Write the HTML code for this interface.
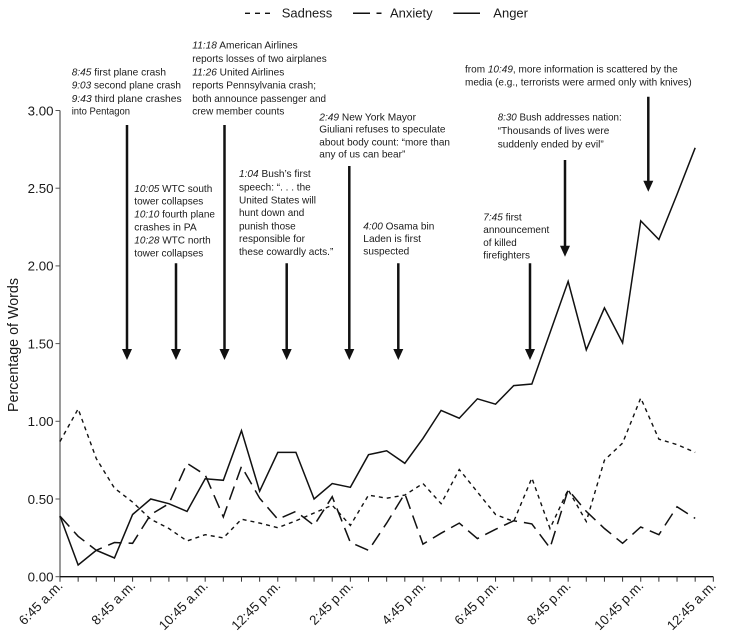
<!DOCTYPE html>
<html>
<head>
<meta charset="utf-8">
<style>
  html, body { margin: 0; padding: 0; background: #ffffff; }
  svg { display: block; }
  text { font-family: "Liberation Sans", Arial, sans-serif; fill: #1a1a1a; }
  .ann { font-size: 10.3px; }
  .tick { font-size: 13.3px; fill: #222; }
</style>
</head>
<body>
<svg width="729" height="635" viewBox="0 0 729 635" xmlns="http://www.w3.org/2000/svg">
  <!-- Legend -->
  <line x1="245" y1="13.3" x2="270" y2="13.3" stroke="#111" stroke-width="1.4" stroke-dasharray="5,5"/>
  <text x="281.7" y="17.5" style="font-size:13px">Sadness</text>
  <line x1="353" y1="13.3" x2="382" y2="13.3" stroke="#111" stroke-width="1.5" stroke-dasharray="17,6.5,5,10"/>
  <text x="390" y="17.5" style="font-size:13px">Anxiety</text>
  <line x1="453.3" y1="13.3" x2="480" y2="13.3" stroke="#111" stroke-width="1.5"/>
  <text x="493.3" y="17.5" style="font-size:13px">Anger</text>

  <!-- Y axis -->
  <line x1="60" y1="110.5" x2="60" y2="577" stroke="#9a9a9a" stroke-width="2"/>
  <g stroke="#555" stroke-width="1">
    <line x1="55.5" y1="110.5" x2="60" y2="110.5"/>
    <line x1="55.5" y1="188.2" x2="60" y2="188.2"/>
    <line x1="55.5" y1="265.9" x2="60" y2="265.9"/>
    <line x1="55.5" y1="343.6" x2="60" y2="343.6"/>
    <line x1="55.5" y1="421.3" x2="60" y2="421.3"/>
    <line x1="55.5" y1="499.0" x2="60" y2="499.0"/>
    <line x1="55.5" y1="576.7" x2="60" y2="576.7"/>
  </g>
  <g class="tick" text-anchor="end">
    <text x="53.5" y="115.3">3.00</text>
    <text x="53.5" y="193.0">2.50</text>
    <text x="53.5" y="270.7">2.00</text>
    <text x="53.5" y="348.4">1.50</text>
    <text x="53.5" y="426.1">1.00</text>
    <text x="53.5" y="503.8">0.50</text>
    <text x="53.5" y="581.5">0.00</text>
  </g>
  <text transform="translate(18,345) rotate(-90)" text-anchor="middle" style="font-size:14.3px">Percentage of Words</text>

  <!-- X axis -->
  <line x1="60" y1="576.7" x2="713.3" y2="576.7" stroke="#111" stroke-width="1.3"/>
  <g stroke="#333" stroke-width="1">
    <line x1="60.00" y1="576.7" x2="60.00" y2="581.7"/>
    <line x1="78.15" y1="576.7" x2="78.15" y2="581.7"/>
    <line x1="96.30" y1="576.7" x2="96.30" y2="581.7"/>
    <line x1="114.44" y1="576.7" x2="114.44" y2="581.7"/>
    <line x1="132.59" y1="576.7" x2="132.59" y2="581.7"/>
    <line x1="150.74" y1="576.7" x2="150.74" y2="581.7"/>
    <line x1="168.89" y1="576.7" x2="168.89" y2="581.7"/>
    <line x1="187.04" y1="576.7" x2="187.04" y2="581.7"/>
    <line x1="205.18" y1="576.7" x2="205.18" y2="581.7"/>
    <line x1="223.33" y1="576.7" x2="223.33" y2="581.7"/>
    <line x1="241.48" y1="576.7" x2="241.48" y2="581.7"/>
    <line x1="259.63" y1="576.7" x2="259.63" y2="581.7"/>
    <line x1="277.78" y1="576.7" x2="277.78" y2="581.7"/>
    <line x1="295.92" y1="576.7" x2="295.92" y2="581.7"/>
    <line x1="314.07" y1="576.7" x2="314.07" y2="581.7"/>
    <line x1="332.22" y1="576.7" x2="332.22" y2="581.7"/>
    <line x1="350.37" y1="576.7" x2="350.37" y2="581.7"/>
    <line x1="368.52" y1="576.7" x2="368.52" y2="581.7"/>
    <line x1="386.66" y1="576.7" x2="386.66" y2="581.7"/>
    <line x1="404.81" y1="576.7" x2="404.81" y2="581.7"/>
    <line x1="422.96" y1="576.7" x2="422.96" y2="581.7"/>
    <line x1="441.11" y1="576.7" x2="441.11" y2="581.7"/>
    <line x1="459.26" y1="576.7" x2="459.26" y2="581.7"/>
    <line x1="477.40" y1="576.7" x2="477.40" y2="581.7"/>
    <line x1="495.55" y1="576.7" x2="495.55" y2="581.7"/>
    <line x1="513.70" y1="576.7" x2="513.70" y2="581.7"/>
    <line x1="531.85" y1="576.7" x2="531.85" y2="581.7"/>
    <line x1="550.00" y1="576.7" x2="550.00" y2="581.7"/>
    <line x1="568.14" y1="576.7" x2="568.14" y2="581.7"/>
    <line x1="586.29" y1="576.7" x2="586.29" y2="581.7"/>
    <line x1="604.44" y1="576.7" x2="604.44" y2="581.7"/>
    <line x1="622.59" y1="576.7" x2="622.59" y2="581.7"/>
    <line x1="640.74" y1="576.7" x2="640.74" y2="581.7"/>
    <line x1="658.88" y1="576.7" x2="658.88" y2="581.7"/>
    <line x1="677.03" y1="576.7" x2="677.03" y2="581.7"/>
    <line x1="695.18" y1="576.7" x2="695.18" y2="581.7"/>
    <line x1="713.33" y1="576.7" x2="713.33" y2="581.7"/>
  </g>
  <g class="tick" text-anchor="end">
    <text transform="translate(63.5,586.5) rotate(-45)">6:45 a.m.</text>
    <text transform="translate(136.1,586.5) rotate(-45)">8:45 a.m.</text>
    <text transform="translate(208.7,586.5) rotate(-45)">10:45 a.m.</text>
    <text transform="translate(281.3,586.5) rotate(-45)">12:45 p.m.</text>
    <text transform="translate(353.9,586.5) rotate(-45)">2:45 p.m.</text>
    <text transform="translate(426.5,586.5) rotate(-45)">4:45 p.m.</text>
    <text transform="translate(499.1,586.5) rotate(-45)">6:45 p.m.</text>
    <text transform="translate(571.6,586.5) rotate(-45)">8:45 p.m.</text>
    <text transform="translate(644.2,586.5) rotate(-45)">10:45 p.m.</text>
    <text transform="translate(716.8,586.5) rotate(-45)">12:45 a.m.</text>
  </g>

  <!-- Series -->
  <polyline fill="none" stroke="#111" stroke-width="1.5" stroke-linejoin="miter"
    points="60.00,516.1 78.15,565.0 96.30,550.3 114.44,558.0 132.59,514.5 150.74,499.0 168.89,503.7 187.04,511.4 205.18,478.8 223.33,480.3 241.48,430.6 259.63,491.2 277.78,452.4 295.92,452.4 314.07,499.0 332.22,483.5 350.37,487.3 368.52,454.7 386.66,450.8 404.81,463.3 422.96,438.4 441.11,410.4 459.26,418.2 477.40,398.8 495.55,404.2 513.70,385.6 531.85,384.0 550.00,332.7 568.14,281.4 586.29,349.8 604.44,307.9 622.59,342.8 640.74,220.8 658.88,239.5 677.03,194.4 695.18,147.8"/>
  <polyline fill="none" stroke="#111" stroke-width="1.4" stroke-dasharray="4,4"
    points="60.00,441.5 78.15,408.9 96.30,458.6 114.44,488.1 132.59,502.1 150.74,519.2 168.89,528.5 187.04,541.0 205.18,534.7 223.33,537.9 241.48,519.2 259.63,523.1 277.78,527.7 295.92,520.8 314.07,513.0 332.22,505.2 350.37,525.4 368.52,495.1 386.66,498.2 404.81,495.1 422.96,483.5 441.11,503.7 459.26,469.5 477.40,492.0 495.55,514.5 513.70,521.5 531.85,478.0 550.00,528.5 568.14,489.7 586.29,521.5 604.44,460.2 622.59,443.1 640.74,398.0 658.88,439.2 677.03,444.6 695.18,452.4"/>
  <polyline fill="none" stroke="#111" stroke-width="1.5" stroke-dasharray="14,7"
    points="60.00,516.1 78.15,536.3 96.30,550.3 114.44,542.5 132.59,543.3 150.74,514.5 168.89,503.7 187.04,463.3 205.18,474.9 223.33,516.9 241.48,466.4 259.63,498.2 277.78,519.2 295.92,511.4 314.07,525.4 332.22,496.7 350.37,542.5 368.52,550.3 386.66,523.1 404.81,493.6 422.96,544.1 441.11,533.2 459.26,523.1 477.40,538.6 495.55,529.3 513.70,520.8 531.85,523.9 550.00,547.9 568.14,489.7 586.29,511.4 604.44,528.5 622.59,543.3 640.74,527.0 658.88,534.7 677.03,506.8 695.18,518.4"/>

  <!-- Arrows -->
  <g stroke="#111" stroke-width="2.5">
    <line x1="127" y1="125" x2="127" y2="352"/>
    <line x1="176" y1="263.3" x2="176" y2="352"/>
    <line x1="224.5" y1="125" x2="224.5" y2="352"/>
    <line x1="286.7" y1="263.3" x2="286.7" y2="352"/>
    <line x1="349.3" y1="166" x2="349.3" y2="352"/>
    <line x1="398.3" y1="263.3" x2="398.3" y2="352"/>
    <line x1="530" y1="263.3" x2="530" y2="352"/>
    <line x1="565" y1="160" x2="565" y2="248.7"/>
    <line x1="648.3" y1="96.7" x2="648.3" y2="183.7"/>
  </g>
  <g fill="#111">
    <polygon points="122,349 132,349 127,360"/>
    <polygon points="171,349 181,349 176,360"/>
    <polygon points="219.5,349 229.5,349 224.5,360"/>
    <polygon points="281.7,349 291.7,349 286.7,360"/>
    <polygon points="344.3,349 354.3,349 349.3,360"/>
    <polygon points="393.3,349 403.3,349 398.3,360"/>
    <polygon points="525,349 535,349 530,360"/>
    <polygon points="560,245.7 570,245.7 565,256.7"/>
    <polygon points="643.3,180.7 653.3,180.7 648.3,191.7"/>
  </g>

  <!-- Annotations -->
  <g class="ann">
    <!-- Block A -->
    <text x="71.7" y="75.4" textLength="94.3" lengthAdjust="spacingAndGlyphs"><tspan font-style="italic">8:45</tspan> first plane crash</text>
    <text x="71.7" y="88.7" textLength="109.3" lengthAdjust="spacingAndGlyphs"><tspan font-style="italic">9:03</tspan> second plane crash</text>
    <text x="71.7" y="102" textLength="110" lengthAdjust="spacingAndGlyphs"><tspan font-style="italic">9:43</tspan> third plane crashes</text>
    <text x="71.7" y="114.7" textLength="58.3" lengthAdjust="spacingAndGlyphs">into Pentagon</text>

    <!-- Block B -->
    <text x="192.3" y="48.7" textLength="105.4" lengthAdjust="spacingAndGlyphs"><tspan font-style="italic">11:18</tspan> American Airlines</text>
    <text x="192.3" y="62" textLength="134.4" lengthAdjust="spacingAndGlyphs">reports losses of two airplanes</text>
    <text x="192.3" y="75.4" textLength="92" lengthAdjust="spacingAndGlyphs"><tspan font-style="italic">11:26</tspan> United Airlines</text>
    <text x="192.3" y="88.7" textLength="123.7" lengthAdjust="spacingAndGlyphs">reports Pennsylvania crash;</text>
    <text x="192.3" y="102" textLength="133.7" lengthAdjust="spacingAndGlyphs">both announce passenger and</text>
    <text x="192.3" y="114.7" textLength="92" lengthAdjust="spacingAndGlyphs">crew member counts</text>

    <!-- Block C -->
    <text x="465" y="72.7" textLength="212.7" lengthAdjust="spacingAndGlyphs">from <tspan font-style="italic">10:49</tspan>, more information is scattered by the</text>
    <text x="465" y="85.4" textLength="226.7" lengthAdjust="spacingAndGlyphs">media (e.g., terrorists were armed only with knives)</text>

    <!-- Block D -->
    <text x="319.3" y="120.4" textLength="96.7" lengthAdjust="spacingAndGlyphs"><tspan font-style="italic">2:49</tspan> New York Mayor</text>
    <text x="319.3" y="132.4" textLength="126.2" lengthAdjust="spacingAndGlyphs">Giuliani refuses to speculate</text>
    <text x="319.3" y="145.4" textLength="130.7" lengthAdjust="spacingAndGlyphs">about body count: “more than</text>
    <text x="319.3" y="157.7" textLength="86" lengthAdjust="spacingAndGlyphs">any of us can bear”</text>

    <!-- Block E -->
    <text x="497.7" y="120.4" textLength="124" lengthAdjust="spacingAndGlyphs"><tspan font-style="italic">8:30</tspan> Bush addresses nation:</text>
    <text x="497.7" y="134" textLength="111.6" lengthAdjust="spacingAndGlyphs">“Thousands of lives were</text>
    <text x="497.7" y="147.5" textLength="106" lengthAdjust="spacingAndGlyphs">suddenly ended by evil”</text>

    <!-- Block F -->
    <text x="134.3" y="192" textLength="78" lengthAdjust="spacingAndGlyphs"><tspan font-style="italic">10:05</tspan> WTC south</text>
    <text x="134.3" y="204.7" textLength="69" lengthAdjust="spacingAndGlyphs">tower collapses</text>
    <text x="134.3" y="217.7" textLength="80.7" lengthAdjust="spacingAndGlyphs"><tspan font-style="italic">10:10</tspan> fourth plane</text>
    <text x="134.3" y="230.7" textLength="62.4" lengthAdjust="spacingAndGlyphs">crashes in PA</text>
    <text x="134.3" y="243.7" textLength="76.4" lengthAdjust="spacingAndGlyphs"><tspan font-style="italic">10:28</tspan> WTC north</text>
    <text x="134.3" y="256.4" textLength="69" lengthAdjust="spacingAndGlyphs">tower collapses</text>

    <!-- Block G -->
    <text x="239" y="177" textLength="71.7" lengthAdjust="spacingAndGlyphs"><tspan font-style="italic">1:04</tspan> Bush’s first</text>
    <text x="239" y="190.4" textLength="71.7" lengthAdjust="spacingAndGlyphs">speech: “. . . the</text>
    <text x="239" y="203.4" textLength="77" lengthAdjust="spacingAndGlyphs">United States will</text>
    <text x="239" y="216" textLength="65.3" lengthAdjust="spacingAndGlyphs">hunt down and</text>
    <text x="239" y="229.4" textLength="56.7" lengthAdjust="spacingAndGlyphs">punish those</text>
    <text x="239" y="242" textLength="66" lengthAdjust="spacingAndGlyphs">responsible for</text>
    <text x="239" y="255" textLength="94.3" lengthAdjust="spacingAndGlyphs">these cowardly acts.”</text>

    <!-- Block H -->
    <text x="363.3" y="229.4" textLength="71" lengthAdjust="spacingAndGlyphs"><tspan font-style="italic">4:00</tspan> Osama bin</text>
    <text x="363.3" y="242" textLength="57.7" lengthAdjust="spacingAndGlyphs">Laden is first</text>
    <text x="363.3" y="254.7" textLength="46" lengthAdjust="spacingAndGlyphs">suspected</text>

    <!-- Block I -->
    <text x="483.3" y="220.4" textLength="38.4" lengthAdjust="spacingAndGlyphs"><tspan font-style="italic">7:45</tspan> first</text>
    <text x="483.3" y="233" textLength="66" lengthAdjust="spacingAndGlyphs">announcement</text>
    <text x="483.3" y="246" textLength="33.4" lengthAdjust="spacingAndGlyphs">of killed</text>
    <text x="483.3" y="258.7" textLength="46.7" lengthAdjust="spacingAndGlyphs">firefighters</text>
  </g>
</svg>
</body>
</html>
